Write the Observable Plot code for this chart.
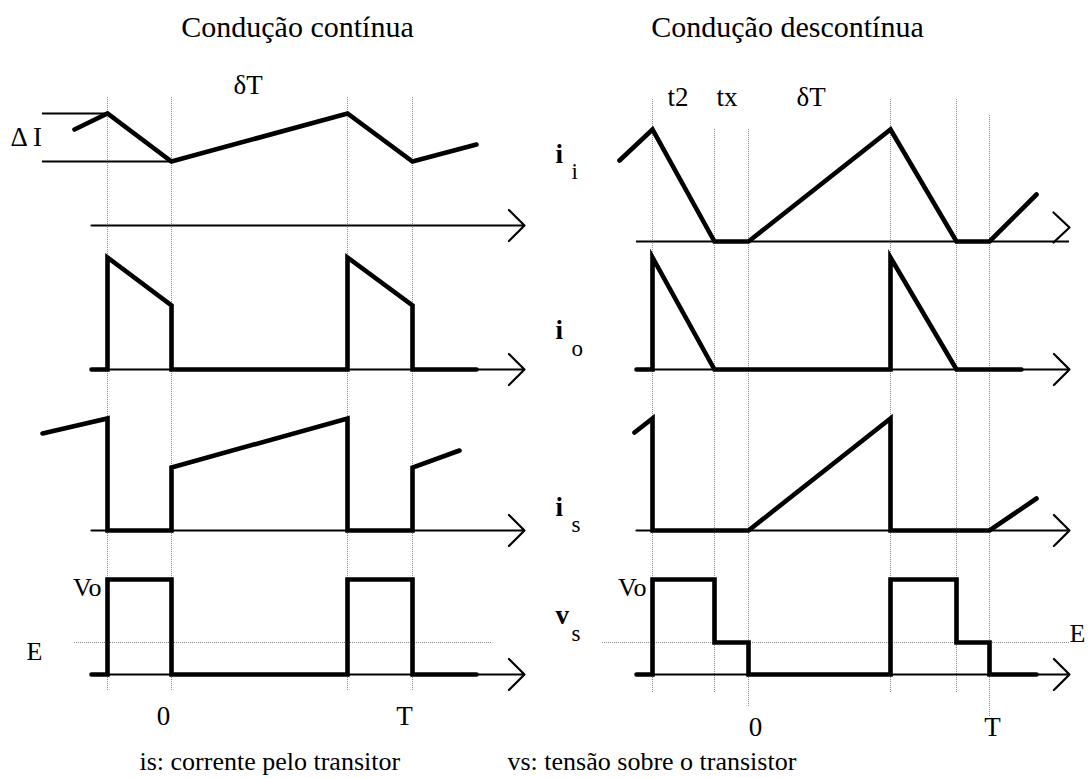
<!DOCTYPE html>
<html><head><meta charset="utf-8">
<script src="https://cdn.jsdelivr.net/npm/d3@7"></script>
<script src="https://cdn.jsdelivr.net/npm/@observablehq/plot@0.6"></script>
<style>body{margin:0;background:#fff}</style>
</head><body><div id="chart"></div>
<script>
// ---- Data (diagram units) ----
// Vertical timing guides
const guideX   = [107, 171, 347, 412, 652, 714, 748, 890, 956, 989];
const guideTop = [97, 97, 97, 97, 99, 129, 129, 99, 99, 115];
const guideBot = [690, 690, 690, 690, 692, 692, 707, 692, 692, 717];

// Continuous conduction waveforms
const iiContT = [74, 107, 171, 347, 412, 476];
const iiContV = [129, 113, 161, 113, 161, 144];
const ioContT = [91, 107, 107, 171, 171, 347, 347, 412, 412, 476];
const ioContV = [369, 369, 257, 305, 369, 369, 257, 305, 369, 369];
const isContT = [42, 107, 107, 171, 171, 347, 347, 412, 412, 459];
const isContV = [433, 418, 530, 530, 467, 418, 530, 530, 467, 450];
const vsContT = [91, 107, 107, 171, 171, 347, 347, 412, 412, 476];
const vsContV = [674, 674, 579, 579, 674, 674, 579, 579, 674, 674];

// Discontinuous conduction waveforms
const iiDiscT = [619, 652, 714, 748, 890, 956, 989, 1036];
const iiDiscV = [160, 129, 241, 241, 129, 241, 241, 194];
const ioDiscT = [636, 652, 652, 714, 890, 890, 956, 1021];
const ioDiscV = [369, 369, 257, 369, 369, 257, 369, 369];
const isDiscT = [634, 652, 652, 748, 890, 890, 989, 1036];
const isDiscV = [432, 418, 530, 530, 418, 530, 530, 498];
const vsDiscT = [636, 652, 652, 714, 714, 748, 748, 890, 890, 956, 956, 989, 989, 1036];
const vsDiscV = [674, 674, 579, 579, 642, 642, 674, 674, 579, 579, 642, 642, 674, 674];

// Time axes (start, end, level)
const axisStart = [91, 91, 91, 91, 636, 636, 636];
const axisEnd   = [524, 524, 524, 524, 1069, 1069, 1069];
const axisLevel = [225, 369, 530, 674, 369, 530, 674];
// top-right axis (its head sits slightly above the line)
const axisTR = {x1: 636, x2: 1069, y: 241};
const headTRx = [1053, 1069, 1053];
const headTRy = [212, 227, 242];

// Level E (dotted)
const eStart = [74, 602];
const eEnd   = [491, 1069];
const eLevel = [642, 642];

// Delta I marker lines
const dIStart = [42, 42];
const dIEnd   = [107, 171];
const dILevel = [113, 161];

// Texts
const titles   = ["Condução contínua", "Condução descontínua"];
const titleX   = [297, 787];
const titleY   = [36, 36];

const plainTxt = ["δT", "t2", "tx", "δT", "Δ I"];
const plainX   = [233, 667, 716, 796, 10];
const plainY   = [93, 105, 105, 105, 145];

const voTxt = ["Vo", "Vo"];
const voX   = [101, 646];
const voY   = [595, 595];

const eTxt = ["E", "E"];
const eX   = [26, 1069];
const eY   = [659, 641];

const tickTxt = ["0", "T", "0", "T"];
const tickX   = [163, 404, 755, 992];
const tickY   = [724, 724, 735, 735];

const symMain = ["i", "i", "i", "v"];
const symSub  = ["i", "o", "s", "s"];
const symMainY = [162, 338, 515, 623];
const symSubY  = [178, 355, 531, 640];
const symX = 555, symSubX = 571;

const captionTxt = ["is: corrente pelo transitor", "vs: tensão sobre o transistor"];
const captionX = [139, 507];
const captionY = [769, 769];

// ---- Build tables ----
const zip = (name, xs, ys) => xs.map((x, i) => ({s: name, x, y: ys[i]}));
const waves = [
  ...zip("iiC", iiContT, iiContV), ...zip("ioC", ioContT, ioContV),
  ...zip("isC", isContT, isContV), ...zip("vsC", vsContT, vsContV),
  ...zip("iiD", iiDiscT, iiDiscV), ...zip("ioD", ioDiscT, ioDiscV),
  ...zip("isD", isDiscT, isDiscV), ...zip("vsD", vsDiscT, vsDiscV)
];
const guides = guideX.map((x, i) => ({x, y1: guideTop[i], y2: guideBot[i]}));
const axes = axisStart.map((x1, i) => ({x1, x2: axisEnd[i], y: axisLevel[i]}));
const eLines = eStart.map((x1, i) => ({x1, x2: eEnd[i], y: eLevel[i]}));
const dILines = dIStart.map((x1, i) => ({x1, x2: dIEnd[i], y: dILevel[i]}));
const headTR = headTRx.map((x, i) => ({x, y: headTRy[i]}));
const T = (txt, xs, ys) => txt.map((t, i) => ({t, x: xs[i], y: ys[i]}));

const serif = "Liberation Serif";

const chart = Plot.plot({
  width: 1090, height: 778, margin: 0,
  x: {domain: [0, 1090], range: [0, 1090], axis: null},
  y: {domain: [0, 778], range: [0, 778], axis: null},
  style: {background: "#fff"},
  marks: [
    Plot.ruleX(guides, {x: "x", y1: "y1", y2: "y2", stroke: "#8a8a8a", strokeWidth: 1, strokeDasharray: "1,1"}),
    Plot.ruleY(eLines, {y: "y", x1: "x1", x2: "x2", stroke: "#8a8a8a", strokeWidth: 1, strokeDasharray: "1,1"}),
    Plot.ruleY(dILines, {y: "y", x1: "x1", x2: "x2", stroke: "#000", strokeWidth: 2.2}),
    Plot.arrow(axes, {x1: "x1", x2: "x2", y1: "y", y2: "y", stroke: "#000", strokeWidth: 2.2, headAngle: 90, headLength: 15, insetStart: 0, insetEnd: 0}),
    Plot.ruleY([axisTR], {y: "y", x1: "x1", x2: "x2", stroke: "#000", strokeWidth: 2.2}),
    Plot.line(headTR, {x: "x", y: "y", stroke: "#000", strokeWidth: 2.2}),
    Plot.line(waves, {x: "x", y: "y", z: "s", stroke: "#000", strokeWidth: 4.6, strokeLinejoin: "miter", strokeMiterlimit: 10}),
    Plot.text(T(titles, titleX, titleY), {x: "x", y: "y", text: "t", fontSize: 30, fontFamily: serif, textAnchor: "middle", lineAnchor: "bottom", fill: "#000"}),
    Plot.text(T(plainTxt, plainX, plainY), {x: "x", y: "y", text: "t", fontSize: 27, fontFamily: serif, textAnchor: "start", lineAnchor: "bottom", fill: "#000"}),
    Plot.text(T(voTxt, voX, voY), {x: "x", y: "y", text: "t", fontSize: 26, fontFamily: serif, textAnchor: "end", lineAnchor: "bottom", fill: "#000"}),
    Plot.text(T(eTxt, eX, eY), {x: "x", y: "y", text: "t", fontSize: 26, fontFamily: serif, textAnchor: "start", lineAnchor: "bottom", fill: "#000"}),
    Plot.text(T(tickTxt, tickX, tickY), {x: "x", y: "y", text: "t", fontSize: 27, fontFamily: serif, textAnchor: "middle", lineAnchor: "bottom", fill: "#000"}),
    Plot.text(symMain.map((t, i) => ({t, x: symX, y: symMainY[i]})), {x: "x", y: "y", text: "t", fontSize: 27, fontWeight: "bold", fontFamily: serif, textAnchor: "start", lineAnchor: "bottom", fill: "#000"}),
    Plot.text(symSub.map((t, i) => ({t, x: symSubX, y: symSubY[i]})), {x: "x", y: "y", text: "t", fontSize: 23, fontFamily: serif, textAnchor: "start", lineAnchor: "bottom", fill: "#000"}),
    Plot.text(T(captionTxt, captionX, captionY), {x: "x", y: "y", text: "t", fontSize: 26, fontFamily: serif, textAnchor: "start", lineAnchor: "bottom", fill: "#000"})
  ]
});
document.getElementById("chart").appendChild(chart);
</script>
</body></html>
